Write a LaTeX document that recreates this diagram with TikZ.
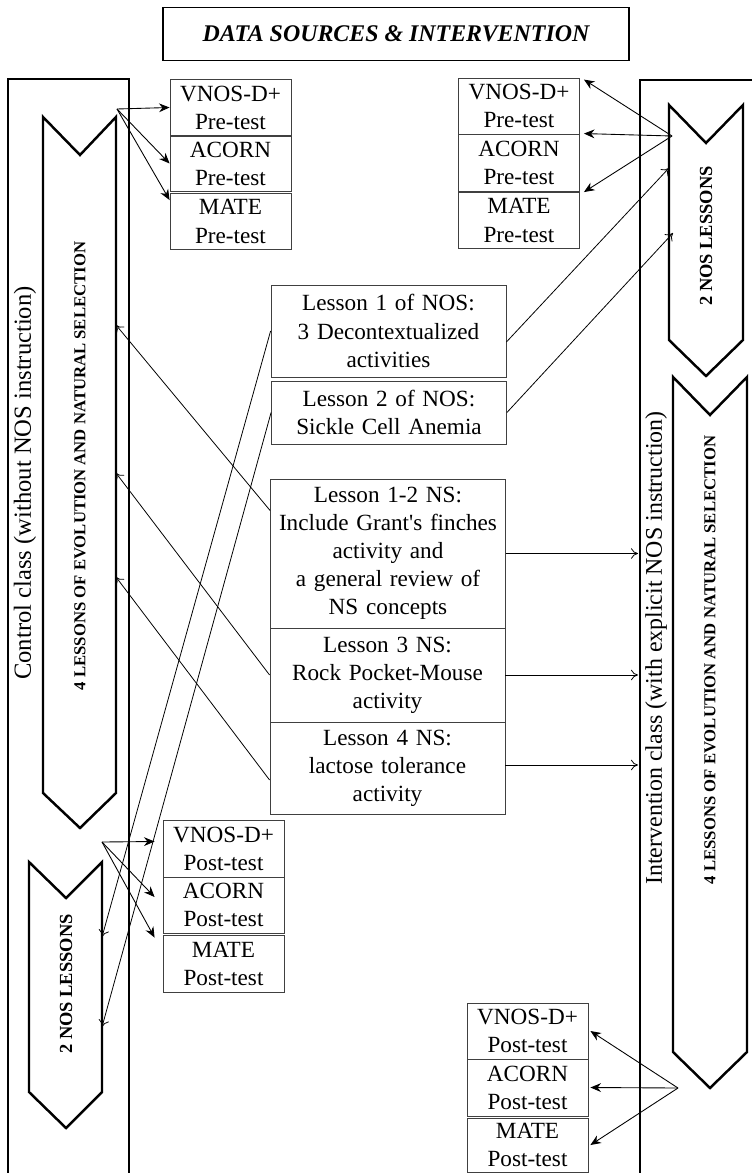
\documentclass[tikz,border=0pt]{standalone}
\usepackage{fontspec}
\setmainfont{Liberation Serif}
\usetikzlibrary{arrows.meta,positioning,calc}

\tikzset{
  frame/.style={line width=1.1pt},
  chev/.style={line width=1.4pt, line join=miter},
  testbox/.style={draw=black!75, line width=0.5pt, minimum width=2.42cm, minimum height=1.12cm,
    align=center, inner sep=0pt, font=\fontsize{13.2}{16}\selectfont},
  lessonbox/.style={draw=black!75, line width=0.5pt, minimum width=4.7cm, text width=4.6cm,
    align=center, inner sep=0pt, font=\fontsize{13.2}{16}\selectfont},
  sidetext/.style={rotate=90, font=\fontsize{13.6}{16}\selectfont},
  chevtext/.style={rotate=90, font=\fontsize{9.5}{11}\selectfont\bfseries},
  fan/.style={-{Stealth[length=6pt,width=5pt]}, line width=0.5pt},
  link/.style={-{To[length=4pt,width=6pt]}, line width=0.45pt},
}

\begin{document}
\begin{tikzpicture}[x=0.02cm,y=-0.02cm]
\useasboundingbox (0,0) rectangle (752,1173);

% title
\node[draw, line width=1.1pt, minimum width=9.34cm, minimum height=1.06cm,
  font=\fontsize{13.6}{16}\selectfont\bfseries\itshape] (title) at (396,34) {DATA SOURCES \& INTERVENTION};

% the two class frames
\draw[frame] (8,1173) -- (8,79) -- (129,79) -- (129,1173);
\draw[frame] (640,1173) -- (640,80) -- (752,80);
\node[sidetext, font=\fontsize{14}{16}\selectfont] (ctrl) at (25,483) {Control class (without NOS instruction)};
\node[sidetext] (interv) at (656,648) {Intervention class (with explicit NOS instruction)};

% chevrons, control class
\draw[chev] (43,117) -- (80,155) -- (116,117) -- (116,793) -- (80,828) -- (43,793) -- cycle;
\node[chevtext] (lbigtxt) at (80,466) {4 LESSONS OF EVOLUTION AND NATURAL SELECTION};
\draw[chev] (29,862) -- (66,898) -- (102,862) -- (102,1092) -- (66,1128) -- (29,1092) -- cycle;
\node[chevtext, font=\fontsize{10.5}{12}\selectfont\bfseries] (lsmalltxt) at (66,984) {2 NOS LESSONS};

% chevrons, intervention class
\draw[chev] (669,105) -- (706,143) -- (743,105) -- (743,340) -- (706,376) -- (669,340) -- cycle;
\node[chevtext, font=\fontsize{10.5}{12}\selectfont\bfseries] (rsmalltxt) at (706,236) {2 NOS LESSONS};
\draw[chev] (673,377) -- (710,415) -- (747,377) -- (747,1052) -- (710,1088) -- (673,1052) -- cycle;
\node[chevtext] (rbigtxt) at (710,660) {4 LESSONS OF EVOLUTION AND NATURAL SELECTION};

\coordinate (lpre) at (117,109);
\coordinate (rpre) at (672,136);
\coordinate (lpost) at (102,842);
\coordinate (rpost) at (678,1088);
\coordinate (lbig1) at (116,325);
\coordinate (lbig2) at (116,473);
\coordinate (lbig3) at (116,577);
\coordinate (lsmall1) at (102,937);
\coordinate (lsmall2) at (102,1027);
\coordinate (rsmall1) at (669,168);
\coordinate (rsmall2) at (673,233);
\coordinate (rwall) at (638,0);

% tests
\node[testbox, minimum height=1.14cm] (lvnos) at (230.5,107.5) {VNOS-D+\\Pre-test};
\node[testbox] (lacorn) at (230.5,163.5) {ACORN\\Pre-test};
\node[testbox] (lmate) at (230.5,221.5) {MATE\\Pre-test};

\node[testbox] (rvnos) at (519,106) {VNOS-D+\\Pre-test};
\node[testbox, minimum height=1.14cm] (racorn) at (519,162.5) {ACORN\\Pre-test};
\node[testbox] (rmate) at (519,220.5) {MATE\\Pre-test};

\node[testbox, minimum height=1.14cm] (lvnospost) at (223.5,848.5) {VNOS-D+\\Post-test};
\node[testbox] (lacornpost) at (223.5,905) {ACORN\\Post-test};
\node[testbox, minimum height=1.14cm] (lmatepost) at (223.5,963.5) {MATE\\Post-test};

\node[testbox] (rvnospost) at (527.5,1031) {VNOS-D+\\Post-test};
\node[testbox, minimum height=1.14cm] (racornpost) at (527.5,1087.5) {ACORN\\Post-test};
\node[testbox, minimum height=1.08cm] (rmatepost) at (527.5,1145) {MATE\\Post-test};

% lessons
\node[lessonbox, minimum height=1.84cm] (l1nos) at (388.5,331) {Lesson 1 of NOS:\\3 Decontextualized\\activities};
\node[lessonbox, minimum height=1.26cm] (l2nos) at (389,412.5) {Lesson 2 of NOS:\\Sickle Cell Anemia};
\node[lessonbox, minimum height=2.98cm] (l12ns) at (388,553.5) {Lesson 1-2 NS:\\Include Grant\textquotesingle s finches\\activity and\\a general review of\\NS concepts};
\node[lessonbox, minimum height=1.88cm] (l3ns) at (387.5,675) {Lesson 3 NS:\\Rock Pocket-Mouse\\activity};
\node[lessonbox, minimum height=1.84cm] (l4ns) at (387.5,768) {Lesson 4 NS:\\lactose tolerance\\activity};

% test arrows
\path[fan] (lpre) edge (lvnos.west)
  (lpre) edge (lacorn.west)
  (lpre) edge ([yshift=-0.14cm]lmate.north west);
\path[fan] (rpre) edge ([xshift=0.08cm,yshift=-0.04cm]rvnos.north east)
  (rpre) edge ([xshift=0.08cm]racorn.north east)
  (rpre) edge ([xshift=0.08cm]rmate.north east);
\path[fan] (lpost) edge ([xshift=-0.16cm,yshift=0.14cm]lvnospost.west)
  (lpost) edge ([xshift=-0.16cm,yshift=0.16cm]lacornpost.west)
  (lpost) edge ([xshift=-0.16cm,yshift=-0.06cm]lmatepost.north west);
\path[fan] (rpost) edge ([xshift=0.04cm]rvnospost.east)
  (rpost) edge ([xshift=0.04cm]racornpost.east)
  (rpost) edge ([xshift=0.04cm]rmatepost.east);

% lesson arrows
\path[link] (l1nos.west) edge (lsmall1)
  (l2nos.west) edge (lsmall2)
  ([yshift=-0.22cm]l1nos.east) edge (rsmall1)
  (l2nos.east) edge (rsmall2);
\path[link] ([yshift=0.86cm]l12ns.west) edge (lbig1)
  (l3ns.west) edge (lbig2)
  ([yshift=-0.24cm]l4ns.west) edge (lbig3);
\path[link] (l12ns.east) edge (l12ns.east -| rwall)
  (l3ns.east) edge (l3ns.east -| rwall)
  ([yshift=0.06cm]l4ns.east) edge ([yshift=0.06cm]l4ns.east -| rwall);
\end{tikzpicture}
\end{document}
